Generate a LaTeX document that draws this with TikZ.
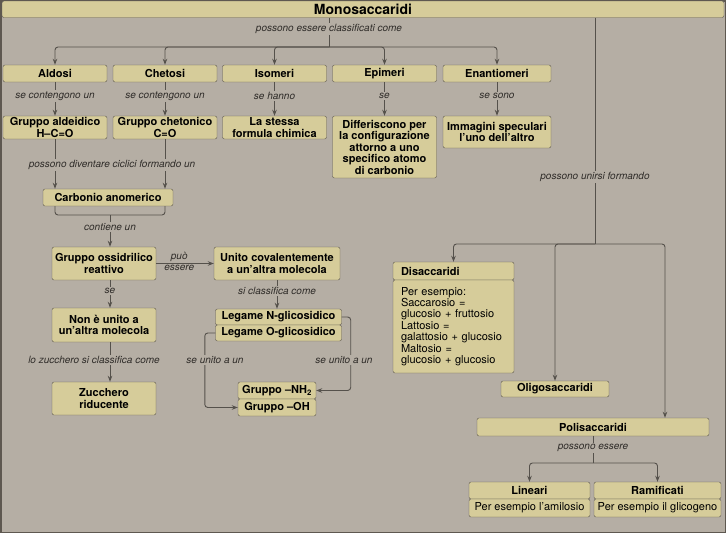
\documentclass[tikz,border=0pt]{standalone}
\usepackage{fontspec}
\setmainfont{TeX Gyre Heros}
\usetikzlibrary{arrows.meta}
\definecolor{sfondo}{HTML}{B5AEA4}
\definecolor{casella}{HTML}{D6CC9A}
\definecolor{bordo}{HTML}{5E5850}
\definecolor{linea}{HTML}{55514B}
\definecolor{testo}{HTML}{2E2B28}
\begin{document}
\begin{tikzpicture}[x=1pt,y=1pt,
  box/.style 2 args={draw=bordo, fill=casella, rounded corners=2pt, inner sep=0pt,
    minimum width=#1, minimum height=#2, align=center,
    font=\fontsize{11}{11.5}\selectfont\bfseries},
  testobox/.style 2 args={box={#1}{#2}, font=\fontsize{11}{11.4}\selectfont},
  sinistra/.style={align=left, text width=#1, inner xsep=8pt},
  linea/.style={draw=linea, line width=0.9pt, rounded corners=3pt},
  arr/.style={linea, -{Stealth[length=6pt,width=4.5pt]}},
  lab/.style={fill=sfondo, inner sep=1.5pt, text=testo,
    font=\fontsize{10}{11}\selectfont\itshape}]
\useasboundingbox (0,0) rectangle (726,-533);
\draw[fill=sfondo, draw=bordo, line width=1.5pt] (0.75,-0.75) rectangle (725.25,-532.25);

\node[box={722}{16.5}, font=\fontsize{14}{16}\selectfont\bfseries] (mono) at (363,-9.25) {Monosaccaridi};

\node[box={104}{17}] (aldosi) at (55,-73.5) {Aldosi};
\node[box={104}{17}] (chetosi) at (165,-73.5) {Chetosi};
\node[box={104}{17}] (isomeri) at (274.5,-73.5) {Isomeri};
\node[box={104}{17}] (epimeri) at (384.5,-73.5) {Epimeri};
\node[box={108}{17}] (enantiomeri) at (497,-73.5) {Enantiomeri};

\node[box={104}{23}] (aldeidico) at (55,-127.5) {Gruppo aldeidico\\H--C=O};
\node[box={104}{23}] (chetonico) at (165,-127.5) {Gruppo chetonico\\C=O};
\node[box={104}{23}] (stessa) at (274.5,-127.5) {La stessa\\formula chimica};
\node[box={104}{62}] (differiscono) at (384.5,-147) {Differiscono per\\la configurazione\\attorno a uno\\specifico atomo\\di carbonio};
\node[box={108}{32}] (immagini) at (497,-132) {Immagini speculari\\l'uno dell'altro};

\coordinate (k1) at (329,-47);
\draw[linea] (mono.south -| k1) -- (k1);
\foreach \n in {aldosi,chetosi,isomeri,epimeri,enantiomeri}
  \draw[arr] (k1) -| (\n);
\node[lab] at (329,-29) {possono essere classificati come};

\draw[arr] (aldosi) -- (aldeidico);
\draw[arr] (chetosi) -- (chetonico);
\draw[arr] (isomeri) -- (stessa);
\draw[arr] (epimeri) -- (differiscono);
\draw[arr] (enantiomeri) -- (immagini);
\node[lab] at (55,-96) {se contengono un};
\node[lab] at (165,-96) {se contengono un};
\node[lab] at (274.5,-96) {se hanno};
\node[lab] at (384.5,-96) {se};
\node[lab] at (497,-96) {se sono};

\node[box={130}{17}] (carbonio) at (108,-197.5) {Carbonio anomerico};
\draw[arr] (aldeidico) -- (aldeidico |- carbonio.north);
\draw[arr] (chetonico) -- (chetonico |- carbonio.north);
\node[lab] at (112,-165) {possono diventare ciclici formando un};

\coordinate (k2) at (110,-215);
\node[box={104}{33}] (ossidrilico) at (104,-263.5) {Gruppo ossidrilico\\reattivo};
\draw[linea] (aldeidico |- carbonio.south) |- (k2) -| (chetonico |- carbonio.south);
\draw[arr] (k2) -- (k2 |- ossidrilico.north);
\node[lab] at (110,-227) {contiene un};

\node[box={126}{33}] (unito) at (277,-263.5) {Unito covalentemente\\a un'altra molecola};
\draw[arr] (ossidrilico) -- node[pos=0.4, above, lab, fill=none] {può}
  node[pos=0.4, below, lab, fill=none] {essere} (unito);

\node[box={104}{34}] (nonunito) at (104,-325) {Non è unito a\\un'altra molecola};
\draw[arr] (ossidrilico.south -| k2) -- (k2 |- nonunito.north);
\node[lab] at (110,-291) {se};
\node[box={104}{33}] (zucchero) at (104,-398.5) {Zucchero\\riducente};
\draw[arr] (nonunito.south -| k2) -- (k2 |- zucchero.north);
\node[lab] at (94,-360) {lo zucchero si classifica come};

\node[box={126}{16}] (legN) at (278.5,-317) {Legame N-glicosidico};
\node[box={126}{16}] (legO) at (278.5,-333) {Legame O-glicosidico};
\draw[arr] (unito) -- (unito |- legN.north);
\node[lab] at (277,-291) {si classifica come};

\node[box={78}{17}] (nh2) at (277,-390.5) {Gruppo --NH\textsubscript{2}};
\node[box={78}{17}] (oh) at (277,-407.5) {Gruppo --OH};
\draw[arr] (legN.east) -- ++(9,0) |- (nh2.east);
\draw[arr] (legO.west) -- ++(-10.5,0) |- (oh.west);
\node[lab] at (215,-360) {se unito a un};
\node[lab] at (344,-360) {se unito a un};

\coordinate (k4) at (595,-244);
\coordinate (k5) at (665,-244);
\draw[linea] (mono.south -| k4) -- (k4);
\node[box={121}{18}, sinistra=105pt] (disH) at (453.5,-271) {Disaccaridi};
\node[testobox={121}{93}, sinistra=105pt] (disB) at (453.5,-326.5) {Per esempio:\\Saccarosio =\\glucosio + fruttosio\\Lattosio =\\galattosio + glucosio\\Maltosio =\\glucosio + glucosio};
\node[box={108}{16}] (oligo) at (555,-389) {Oligosaccaridi};
\node[box={232}{18}] (poli) at (593,-427) {Polisaccaridi};
\draw[arr] (k4) -| (disH);
\draw[arr] (k4) -| (oligo);
\draw[arr] (k4) -- (k5) -- (k5 |- poli.north);
\node[lab] at (595,-177) {possono unirsi formando};

\coordinate (k6) at (593,-463);
\node[box={121}{17}] (linH) at (529.5,-490.5) {Lineari};
\node[testobox={121}{18}] (linB) at (529.5,-508) {Per esempio l'amilosio};
\node[box={127}{17}] (ramH) at (657.5,-490.5) {Ramificati};
\node[testobox={127}{18}] (ramB) at (657.5,-508) {Per esempio il glicogeno};
\draw[linea] (poli) -- (k6);
\draw[arr] (k6) -| (linH);
\draw[arr] (k6) -| (ramH);
\node[lab] at (593,-448) {possono essere};
\end{tikzpicture}
\end{document}
